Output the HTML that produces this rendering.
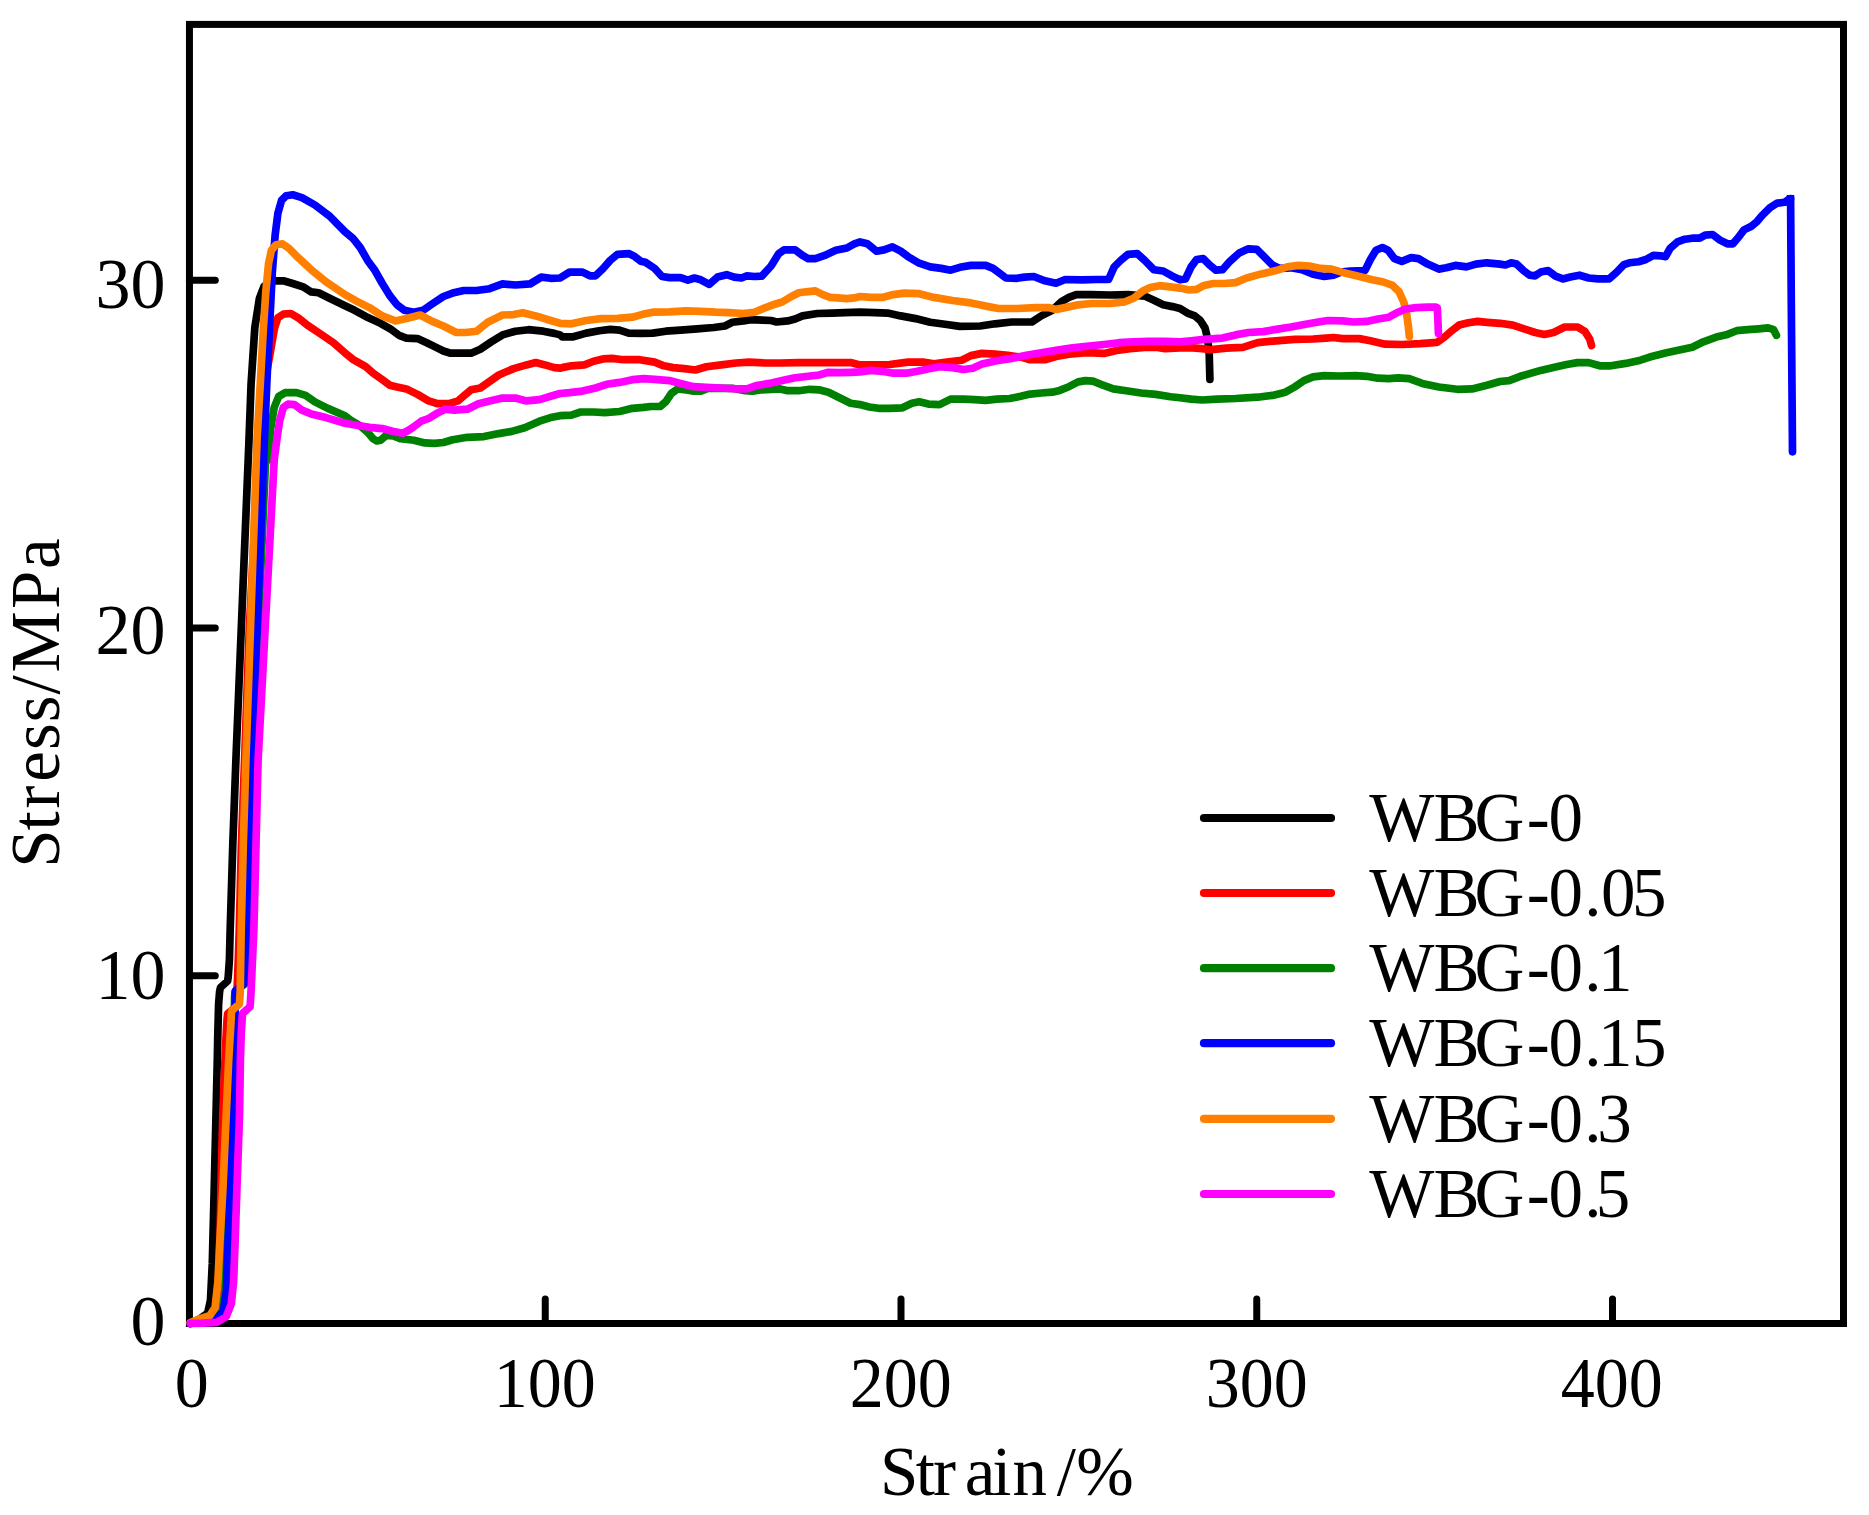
<!DOCTYPE html>
<html lang="en"><head><meta charset="utf-8"><title>Stress-strain curves</title>
<style>html,body{margin:0;padding:0;background:#fff;}body{width:1869px;height:1515px;overflow:hidden;}svg{display:block;}text{font-family:"Liberation Serif", "DejaVu Serif", serif;font-size:69px;fill:#000;}</style></head><body>
<svg width="1869" height="1515" viewBox="0 0 1869 1515">
<rect x="0" y="0" width="1869" height="1515" fill="#ffffff"/>
<g stroke="#000" stroke-width="7.0" stroke-linecap="round" fill="none">
<line x1="545.25" y1="1323.50" x2="545.25" y2="1298.90"/>
<line x1="901.00" y1="1323.50" x2="901.00" y2="1298.90"/>
<line x1="1256.75" y1="1323.50" x2="1256.75" y2="1298.90"/>
<line x1="1612.50" y1="1323.50" x2="1612.50" y2="1298.90"/>
<line x1="189.45" y1="975.80" x2="215.30" y2="975.80"/>
<line x1="189.45" y1="628.10" x2="215.30" y2="628.10"/>
<line x1="189.45" y1="280.30" x2="215.30" y2="280.30"/>
</g>
<rect x="189.45" y="24.40" width="1654.05" height="1299.10" fill="none" stroke="#000" stroke-width="7.0"/>
<g fill="none" stroke-width="7.7" stroke-linejoin="round" stroke-linecap="round">
<polyline stroke="#000000" points="190.4,1323.4 200.3,1318.6 207.7,1313.0 210.5,1300.0 212.3,1263.2 214.2,1189.3 216.0,1115.4 217.3,1060.0 217.8,1034.4 218.6,1004.0 219.6,991.5 220.5,987.5 227.6,981.0 228.2,977.0 229.4,960.0 230.2,928.9 232.8,844.4 235.9,760.0 249.0,440.0 251.1,383.4 254.8,327.9 259.4,298.3 264.0,286.3 270.0,282.0 276.0,280.8 283.4,280.8 292.7,283.5 303.8,287.2 311.2,291.9 318.6,292.8 329.6,298.3 345.0,305.7 354.6,310.3 365.7,316.4 380.5,323.3 391.6,329.7 399.0,335.3 406.4,338.1 417.5,338.6 426.7,342.7 434.1,346.4 443.4,351.0 450.7,353.2 471.1,353.2 480.3,349.2 491.4,341.8 502.5,334.9 515.4,331.2 528.4,329.7 543.2,331.2 554.3,333.4 560.0,334.9 562.2,336.8 573.3,336.8 586.2,333.1 599.2,330.7 610.2,329.4 619.5,330.1 628.7,333.1 641.7,333.4 652.8,333.1 665.7,331.2 680.5,330.1 697.1,328.8 713.8,327.5 724.9,326.0 732.3,322.3 743.4,320.9 750.7,319.6 761.8,320.1 771.1,320.5 776.6,322.0 787.7,320.9 795.1,319.0 802.5,315.9 817.3,313.5 832.1,313.1 845.0,312.7 860.0,312.2 874.8,312.7 887.7,313.1 900.7,315.9 915.5,318.6 930.2,322.3 945.0,324.2 959.8,326.4 980.2,326.0 995.0,323.8 1011.6,322.0 1031.9,322.0 1041.2,315.9 1052.3,310.3 1061.5,301.6 1068.9,297.4 1076.3,294.6 1091.1,294.6 1109.6,295.0 1128.1,294.6 1144.7,296.1 1153.9,300.2 1163.2,304.8 1172.4,306.6 1180.0,308.5 1187.4,313.1 1194.8,315.9 1200.3,320.5 1205.0,327.9 1207.7,339.0 1209.2,353.8 1209.6,368.6 1209.9,379.3"/>
<polyline stroke="#ff0000" points="190.4,1323.4 202.2,1320.8 212.0,1316.5 216.2,1307.5 218.8,1274.0 220.2,1226.0 220.9,1189.3 222.8,1115.4 225.0,1060.0 225.9,1040.0 227.0,1020.0 227.7,1013.8 236.0,1006.8 237.0,992.0 238.3,960.0 239.3,928.9 241.4,844.4 244.6,760.0 249.2,630.0 259.5,440.0 264.6,383.4 269.5,357.0 272.4,340.0 274.6,327.9 277.9,317.8 283.4,314.1 290.8,313.5 298.2,317.8 307.5,325.2 318.6,332.6 333.3,342.7 345.0,352.9 352.8,359.3 365.7,366.7 373.1,373.2 382.3,379.7 389.7,385.2 397.1,387.0 406.4,388.9 417.5,394.4 428.6,400.9 437.8,403.7 448.9,403.7 458.1,400.9 465.5,394.4 471.1,389.8 480.3,388.0 489.6,381.5 498.8,375.0 513.6,368.6 526.5,364.9 535.8,362.6 545.0,364.9 554.3,367.6 560.0,368.2 562.2,367.6 571.4,365.8 584.4,364.9 593.6,361.2 602.9,358.9 612.1,358.4 623.2,359.7 639.8,359.7 654.6,362.1 663.9,365.8 673.1,367.6 684.2,368.6 695.3,370.0 706.4,366.7 721.2,364.9 736.0,363.0 748.9,362.1 765.5,363.0 780.3,363.0 798.8,362.6 817.3,362.6 835.8,362.6 850.6,362.6 860.0,364.9 874.8,364.9 889.6,364.5 908.1,362.1 922.9,362.1 933.9,363.9 946.9,362.1 961.7,360.2 970.9,355.6 982.0,353.4 995.0,354.1 1007.9,355.3 1022.7,357.5 1030.1,359.7 1044.9,359.7 1056.0,356.5 1068.9,354.1 1083.7,352.8 1092.9,352.8 1104.0,353.4 1118.8,350.1 1129.9,348.6 1144.7,347.3 1155.8,347.3 1165.0,348.6 1180.0,347.9 1192.9,347.9 1202.2,348.6 1211.4,349.7 1226.2,348.2 1242.9,347.3 1257.6,342.7 1276.1,340.8 1294.6,339.4 1313.1,339.0 1326.0,338.1 1333.4,337.5 1342.7,338.6 1359.3,338.6 1370.4,340.8 1385.2,344.2 1401.8,344.5 1420.3,343.6 1437.0,342.3 1444.4,337.1 1451.8,330.7 1459.1,325.1 1468.4,322.7 1477.6,321.4 1486.9,322.3 1500.0,323.3 1512.9,325.1 1524.0,328.8 1535.1,332.5 1544.4,334.4 1553.6,332.5 1564.7,327.0 1577.6,327.0 1585.0,331.6 1589.7,339.0 1591.5,345.5"/>
<polyline stroke="#008000" points="190.4,1323.4 202.2,1321.8 215.5,1318.2 222.0,1311.2 225.0,1290.9 226.5,1244.7 228.4,1189.3 231.1,1115.4 233.9,1060.0 234.0,1034.4 234.6,996.0 235.0,991.5 245.0,984.0 246.3,971.0 248.2,928.9 250.2,844.4 252.6,760.0 265.6,460.0 268.3,460.0 270.5,429.6 274.2,407.4 278.8,396.3 285.3,392.6 296.4,392.6 305.6,395.4 314.9,401.9 327.8,408.4 345.0,415.8 350.9,420.3 360.2,425.9 367.6,432.3 373.1,438.8 376.8,441.0 380.5,440.3 386.0,435.5 393.4,436.0 400.8,438.8 413.8,440.3 424.9,442.9 434.1,443.4 443.4,442.5 452.6,439.7 467.4,437.3 484.0,436.6 498.8,433.6 511.8,431.4 524.7,427.7 539.5,421.2 550.6,417.6 560.0,415.7 571.4,415.1 580.7,412.0 593.6,412.0 604.7,412.6 619.5,411.5 632.4,408.3 643.5,407.4 650.9,406.5 660.2,406.5 665.7,401.8 671.3,393.5 677.7,388.9 686.0,389.8 693.4,391.1 700.8,391.1 708.2,388.3 732.3,388.3 745.2,390.7 752.6,391.1 761.8,389.8 780.3,388.9 787.7,390.7 798.8,390.7 809.9,389.3 819.1,389.8 828.4,392.2 839.5,397.8 850.6,403.3 860.0,404.6 869.2,407.0 878.5,408.3 889.6,408.3 902.5,407.8 911.8,403.3 919.2,401.8 928.4,404.1 939.5,404.6 950.6,399.1 963.5,399.1 974.6,399.6 985.7,400.4 996.8,399.1 1009.7,398.5 1020.8,396.3 1030.1,394.1 1041.2,393.0 1052.3,392.2 1059.7,390.4 1068.9,386.7 1078.1,381.9 1085.5,380.6 1092.9,381.1 1102.2,384.8 1113.3,388.9 1126.2,390.7 1141.0,393.0 1155.8,394.4 1170.6,396.7 1180.0,397.8 1191.1,399.1 1202.2,400.0 1217.0,399.1 1235.5,398.5 1257.6,397.2 1272.4,395.4 1285.4,392.2 1294.6,387.0 1303.9,380.6 1313.1,376.9 1324.2,375.6 1339.0,376.0 1355.6,375.6 1366.7,376.3 1377.8,378.2 1388.9,378.7 1398.1,377.8 1409.2,378.7 1422.2,383.4 1438.8,387.0 1457.3,389.3 1472.1,388.9 1486.9,385.2 1500.0,381.5 1509.2,380.6 1520.3,376.3 1540.7,370.4 1555.5,367.1 1566.6,364.5 1577.6,362.6 1588.7,362.6 1599.8,365.8 1610.9,365.8 1625.7,363.4 1640.5,360.2 1649.7,357.1 1666.4,352.8 1679.3,350.1 1692.3,347.3 1703.4,341.8 1716.3,337.1 1727.4,334.4 1736.6,330.7 1747.7,329.7 1758.8,328.8 1768.1,327.9 1773.6,329.7 1776.4,335.3"/>
<polyline stroke="#0000ff" points="190.4,1323.4 202.2,1321.4 216.9,1317.7 223.4,1311.2 226.5,1290.9 228.0,1244.7 229.9,1189.3 232.6,1115.4 235.4,1060.0 235.0,1034.4 235.2,994.0 235.6,990.5 245.4,982.6 246.3,971.0 247.5,928.9 249.7,844.4 252.2,760.0 264.4,440.0 266.8,383.4 269.5,327.9 272.3,272.5 275.1,235.5 277.9,213.3 281.6,200.3 286.2,195.7 292.7,194.8 301.9,197.6 314.9,205.0 329.6,216.1 345.0,231.8 352.8,238.2 360.2,247.5 367.6,260.4 375.0,270.6 382.3,283.5 389.7,295.5 397.1,304.8 404.5,310.3 413.8,312.2 423.0,310.3 432.3,303.9 443.4,296.5 452.6,293.1 463.7,290.5 476.6,290.5 489.6,288.7 502.5,283.9 515.4,285.0 530.2,283.9 541.3,277.1 550.6,278.3 560.0,278.0 569.6,272.1 582.5,272.1 589.9,275.8 595.5,275.8 602.9,268.7 610.2,260.4 617.6,254.3 628.7,253.6 634.3,256.2 640.8,261.3 645.4,262.3 654.6,268.4 662.0,276.5 669.4,277.6 680.5,277.6 687.9,280.2 694.4,278.0 700.8,279.8 709.2,284.4 717.5,277.1 726.7,274.7 734.1,277.1 741.5,278.0 747.0,275.8 754.4,276.5 761.8,276.1 771.1,266.0 778.5,253.9 784.0,249.9 795.1,249.9 802.5,255.4 808.1,258.6 815.4,258.6 824.7,255.4 835.8,250.2 846.9,248.0 854.3,243.8 860.0,241.9 867.4,243.8 876.6,251.2 884.0,249.9 892.4,246.9 900.7,251.2 908.1,256.7 919.2,263.2 930.2,266.9 941.3,268.4 950.6,270.2 959.8,267.3 970.9,265.4 985.7,265.4 993.1,268.4 1006.0,278.0 1017.1,278.3 1024.5,277.1 1033.8,276.5 1044.9,280.8 1056.0,283.2 1065.2,279.5 1081.8,279.8 1096.6,279.5 1108.6,279.5 1114.2,266.9 1120.7,260.4 1128.1,254.3 1137.3,253.6 1144.7,260.4 1153.9,269.7 1163.2,271.0 1172.4,276.1 1180.0,279.8 1185.5,278.9 1191.1,266.9 1196.6,259.5 1203.1,258.6 1209.6,265.0 1216.0,270.2 1222.5,269.7 1229.9,261.3 1239.2,253.0 1248.4,248.8 1256.7,249.3 1263.2,255.8 1272.4,265.0 1279.8,268.4 1290.9,267.8 1302.0,269.7 1313.1,274.3 1324.2,276.5 1333.4,275.2 1340.8,272.1 1350.1,271.0 1364.9,270.6 1370.4,259.5 1376.0,250.2 1382.4,247.5 1388.0,250.2 1394.4,258.6 1401.8,261.3 1411.1,257.6 1418.5,258.6 1427.7,264.1 1438.8,269.1 1446.2,267.8 1455.4,265.4 1466.5,266.9 1475.8,264.1 1486.9,262.8 1500.0,264.1 1505.5,265.0 1511.1,262.8 1516.6,264.1 1524.0,271.0 1529.6,275.2 1535.1,275.8 1540.7,272.1 1548.1,270.6 1555.5,276.1 1562.9,278.9 1570.2,277.1 1579.5,275.2 1588.7,278.0 1598.0,278.9 1609.1,278.9 1616.5,272.4 1623.9,264.7 1629.4,262.8 1638.6,261.7 1646.0,259.5 1653.4,255.4 1660.8,255.8 1665.5,256.7 1670.1,248.4 1677.5,241.9 1684.9,239.2 1692.3,238.2 1699.7,238.2 1705.2,235.1 1712.6,234.5 1720.0,240.1 1727.4,243.8 1732.9,243.8 1738.5,237.3 1744.0,229.9 1751.4,226.2 1757.0,221.6 1762.5,215.1 1769.9,207.7 1777.3,203.1 1784.7,202.2 1790.2,198.5 1790.6,198.5 1791.2,290.9 1792.1,401.8 1792.5,451.8"/>
<polyline stroke="#ff8000" points="190.4,1322.6 200.3,1318.6 209.6,1315.8 215.1,1307.5 217.9,1281.6 219.7,1244.7 222.9,1189.3 226.2,1115.4 228.7,1060.0 230.2,1034.4 231.5,1012.5 231.9,1010.5 239.4,1004.0 240.2,992.2 241.2,928.9 243.3,844.4 245.9,760.0 257.0,440.0 260.3,383.4 263.4,327.9 265.9,290.9 268.6,263.2 271.4,250.3 276.0,244.7 282.5,243.8 289.0,248.4 298.2,257.7 311.2,269.7 325.9,281.7 345.0,294.6 356.5,301.1 369.4,307.6 382.3,315.9 395.3,320.9 406.4,318.6 420.2,315.0 432.3,321.4 443.4,326.0 456.3,332.5 465.5,332.5 476.6,331.2 487.7,322.3 502.5,315.0 513.6,314.6 522.8,312.7 535.8,315.9 550.6,320.5 560.0,323.3 571.4,323.8 586.2,320.5 601.0,318.6 617.6,318.3 632.4,317.2 641.7,314.6 652.8,312.2 669.4,311.8 686.0,310.9 700.8,311.3 715.6,312.2 728.6,312.7 743.4,313.5 754.4,312.2 765.5,307.6 772.9,304.8 782.2,302.0 791.4,296.5 798.8,292.8 806.2,291.8 815.4,290.9 822.8,294.6 830.2,297.4 837.6,297.9 846.9,298.7 854.3,297.9 860.0,296.5 871.1,297.4 882.2,297.4 893.3,294.6 904.4,293.1 919.2,293.7 933.9,297.4 952.4,300.5 970.9,302.9 985.7,306.1 998.6,308.5 1017.1,308.5 1035.6,307.6 1048.6,307.6 1056.0,309.4 1065.2,307.6 1078.1,304.8 1091.1,303.5 1109.6,303.5 1124.4,302.0 1133.6,298.3 1142.8,290.9 1150.2,287.6 1159.5,285.7 1170.6,286.9 1180.0,288.1 1189.2,290.0 1196.6,289.4 1204.0,285.4 1213.3,283.5 1224.4,283.5 1235.5,282.6 1246.6,278.0 1261.3,273.9 1276.1,270.6 1287.2,266.9 1298.3,265.4 1309.4,266.0 1320.5,268.4 1331.6,269.1 1342.7,272.4 1357.5,276.1 1372.3,279.8 1383.4,282.0 1392.6,285.4 1399.1,291.8 1403.7,302.0 1406.5,313.1 1408.3,326.0 1409.4,336.4"/>
<polyline stroke="#ff00ff" points="190.4,1323.4 202.2,1323.2 216.9,1322.3 226.2,1316.7 231.3,1303.8 233.6,1281.6 235.0,1244.7 236.9,1189.3 239.5,1115.4 240.4,1060.0 241.2,1034.4 242.4,1015.0 242.9,1013.2 250.1,1006.6 251.0,992.2 253.9,928.9 256.0,844.4 258.1,760.0 274.2,460.0 276.9,439.0 279.7,420.4 283.4,407.4 288.0,404.1 294.5,404.7 301.9,410.2 311.2,413.9 325.9,417.6 345.0,423.2 358.3,425.5 369.4,427.3 382.3,428.6 393.4,431.4 402.7,433.3 408.2,430.5 413.8,426.8 421.2,421.2 428.6,418.5 437.8,412.9 445.2,409.2 454.4,410.2 467.4,409.2 478.5,403.7 489.6,400.9 502.5,398.1 515.4,398.1 526.5,400.9 539.5,399.6 550.6,396.3 560.0,393.5 569.6,392.6 582.5,391.1 595.5,388.0 606.6,384.3 619.5,382.4 632.4,379.7 643.5,378.7 654.6,379.3 669.4,380.6 680.5,383.4 693.4,386.7 706.4,387.4 721.2,388.0 736.0,388.9 747.0,388.9 756.3,385.6 769.2,383.4 782.2,380.6 795.1,377.8 808.1,376.3 819.1,375.0 828.4,372.3 839.5,372.6 850.6,372.3 860.0,371.9 871.1,370.4 882.2,371.3 893.3,373.2 906.2,373.2 917.3,371.3 930.2,368.6 939.5,366.7 952.4,367.6 963.5,369.5 972.8,368.2 982.0,363.9 996.8,360.8 1011.6,358.4 1026.4,355.3 1041.2,352.8 1056.0,350.4 1072.6,347.9 1089.2,346.0 1104.0,344.5 1118.8,342.7 1133.6,341.8 1148.4,341.4 1165.0,341.4 1180.0,341.8 1191.1,340.8 1204.0,339.4 1222.5,338.1 1235.5,334.9 1248.4,332.5 1263.2,331.6 1276.1,329.4 1290.9,327.0 1305.7,324.2 1316.8,322.3 1327.9,320.5 1342.7,320.9 1353.8,322.0 1366.7,321.4 1377.8,319.0 1388.9,317.2 1398.1,312.2 1405.5,309.0 1416.6,307.6 1427.7,307.2 1436.0,307.2 1437.3,307.9 1437.9,320.5 1438.4,333.4"/>
</g>
<rect x="1786.7" y="195.0" width="7.6" height="5" fill="#0000ff"/>
<g stroke-width="8.2" stroke-linecap="round">
<line x1="1204" y1="818.0" x2="1331" y2="818.0" stroke="#000000"/>
<line x1="1204" y1="893.0" x2="1331" y2="893.0" stroke="#ff0000"/>
<line x1="1204" y1="968.2" x2="1331" y2="968.2" stroke="#008000"/>
<line x1="1204" y1="1043.2" x2="1331" y2="1043.2" stroke="#0000ff"/>
<line x1="1204" y1="1118.8" x2="1331" y2="1118.8" stroke="#ff8000"/>
<line x1="1204" y1="1194.0" x2="1331" y2="1194.0" stroke="#ff00ff"/>
</g>
<text x="1369.2 1433.5 1474.5 1526.7 1548.6" y="840.7">WBG-0</text>
<text x="1369.2 1433.5 1474.5 1526.7 1548.6 1584.3 1600.9 1632.1" y="915.7">WBG-0.05</text>
<text x="1369.2 1433.5 1474.5 1526.7 1548.6 1584.3 1597.9" y="990.9">WBG-0.1</text>
<text x="1369.2 1433.5 1474.5 1526.7 1548.6 1584.3 1597.9 1632.1" y="1065.9">WBG-0.15</text>
<text x="1369.2 1433.5 1474.5 1526.7 1548.6 1584.3 1597.3" y="1141.5">WBG-0.3</text>
<text x="1369.2 1433.5 1474.5 1526.7 1548.6 1584.3 1595.8" y="1216.7">WBG-0.5</text>
<text transform="translate(191.7,1406.6) scale(1,1.045)" text-anchor="middle" style="font-size:68px">0</text>
<text transform="translate(544.7,1406.6) scale(1,1.045)" text-anchor="middle" style="font-size:68px">100</text>
<text transform="translate(900.8,1406.6) scale(1,1.045)" text-anchor="middle" style="font-size:68px">200</text>
<text transform="translate(1256.7,1406.6) scale(1,1.045)" text-anchor="middle" style="font-size:68px">300</text>
<text transform="translate(1611.7,1406.6) scale(1,1.045)" text-anchor="middle" style="font-size:68px">400</text>
<text transform="translate(165.6,1344.7) scale(1,1.02)" text-anchor="end" style="font-size:70px">0</text>
<text transform="translate(165.6,998.7) scale(1,1.02)" text-anchor="end" style="font-size:70px">10</text>
<text transform="translate(165.6,653.7) scale(1,1.02)" text-anchor="end" style="font-size:70px">20</text>
<text transform="translate(165.6,307.9) scale(1,1.02)" text-anchor="end" style="font-size:70px">30</text>
<text x="879.9 915.8 933.1 964.7 992.2 1012.5 1056.7 1076.2" y="1495.3">Strain/%</text>
<text transform="translate(59.2,864) rotate(-90)" x="-3.8 33.6 55.4 82.2 113.9 141.8 169.4 191.6 254.9 295.0" y="0">Stress/MPa</text>
</svg></body></html>
